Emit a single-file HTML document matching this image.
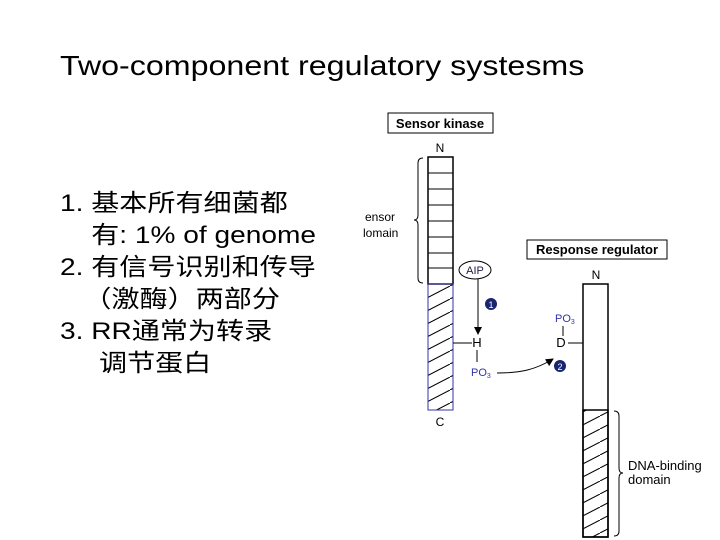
<!DOCTYPE html>
<html><head><meta charset="utf-8"><style>
body{margin:0;width:720px;height:540px;background:#fff;overflow:hidden;position:relative;font-family:"Liberation Sans","Noto Sans CJK SC",sans-serif}
.t{position:absolute;white-space:nowrap;color:#000;transform-origin:0 0}
</style></head><body>
<div class="t" style="left:60px;top:50px;font-size:28px;transform:scaleX(1.15)">Two-component regulatory systesms</div>
<div class="t" style="left:60px;top:188px;font-size:24px;line-height:32px;transform:scaleX(1.17)">1. 基本所有细菌都<br>&nbsp;&nbsp;&nbsp;&nbsp;有: 1% of genome<br>2. 有信号识别和传导<br>&nbsp;&nbsp;&nbsp;（激酶）两部分<br>3. RR通常为转录<br>&nbsp;&nbsp;&nbsp;&nbsp;&nbsp;调节蛋白</div>
<svg width="720" height="540" style="position:absolute;left:0;top:0" font-family="Liberation Sans, sans-serif">
<defs><pattern id="h" width="25" height="13" patternUnits="userSpaceOnUse"><line x1="0" y1="13" x2="25" y2="0" stroke="#000" stroke-width="1"/></pattern>
<marker id="a" markerWidth="8" markerHeight="8" refX="7" refY="4" orient="auto"><path d="M0,0L8,4L0,8z" fill="#000"/></marker></defs>
<rect x="388" y="113" width="105" height="20" fill="#fff" stroke="#000"/>
<text x="440" y="128" font-size="13" font-weight="bold" text-anchor="middle">Sensor kinase</text>
<text x="440" y="152" font-size="12" text-anchor="middle">N</text>
<rect x="428" y="157" width="25" height="127" fill="#fff" stroke="#000" stroke-width="1.5"/>
<g stroke="#000"><line x1="428" y1="173" x2="453" y2="173"/><line x1="428" y1="189" x2="453" y2="189"/><line x1="428" y1="205" x2="453" y2="205"/><line x1="428" y1="221" x2="453" y2="221"/><line x1="428" y1="237" x2="453" y2="237"/><line x1="428" y1="253" x2="453" y2="253"/><line x1="428" y1="268" x2="453" y2="268"/></g>
<rect x="428" y="284" width="25" height="126" fill="url(#h)" stroke="#33a" stroke-width="1"/>
<text x="440" y="426" font-size="12" text-anchor="middle">C</text>
<path d="M423,158 q-5,0 -5,5 v52 q0,5 -4,5 q4,0 4,5 v53 q0,5 5,5" fill="none" stroke="#000"/>
<text x="365" y="221" font-size="12">ensor</text><text x="363" y="237" font-size="12">lomain</text>
<ellipse cx="475" cy="270" rx="16" ry="9" fill="#fff" stroke="#000"/>
<text x="475" y="274" font-size="11" text-anchor="middle" fill="#224">AIP</text>
<line x1="478" y1="279" x2="478" y2="334" stroke="#000" marker-end="url(#a)"/>
<circle cx="491" cy="304" r="6" fill="#1a2570"/><text x="491" y="308" font-size="9" fill="#fff" text-anchor="middle">1</text>
<line x1="453" y1="343" x2="472" y2="343" stroke="#000"/>
<text x="477" y="347" font-size="13" text-anchor="middle">H</text>
<line x1="477" y1="350" x2="477" y2="362" stroke="#000"/>
<text x="471" y="376" font-size="11" fill="#33a">PO<tspan font-size="7" dy="2">3</tspan></text>
<path d="M497,373 C520,373 535,370 553,359" fill="none" stroke="#000" marker-end="url(#a)"/>
<rect x="527" y="240" width="140" height="19" fill="#fff" stroke="#000"/>
<text x="597" y="254" font-size="13" font-weight="bold" text-anchor="middle">Response regulator</text>
<text x="596" y="279" font-size="12" text-anchor="middle">N</text>
<rect x="583" y="284" width="25" height="253" fill="#fff" stroke="#000" stroke-width="1.5"/>
<rect x="583" y="410" width="25" height="127" fill="url(#h)" stroke="#000" stroke-width="1.5"/>
<text x="555" y="322" font-size="11" fill="#33a">PO<tspan font-size="7" dy="2">3</tspan></text>
<line x1="563" y1="326" x2="563" y2="336" stroke="#000"/>
<text x="561" y="347" font-size="13" text-anchor="middle">D</text>
<line x1="568" y1="343" x2="583" y2="343" stroke="#000"/>
<circle cx="560" cy="366" r="6" fill="#1a2570"/><text x="560" y="370" font-size="9" fill="#fff" text-anchor="middle">2</text>
<path d="M614,411 q5,0 5,5 v52 q0,5 4,5 q-4,0 -4,5 v53 q0,5 -5,5" fill="none" stroke="#000"/>
<text x="628" y="470" font-size="13">DNA-binding</text><text x="628" y="484" font-size="13">domain</text>
</svg>
</body></html>
